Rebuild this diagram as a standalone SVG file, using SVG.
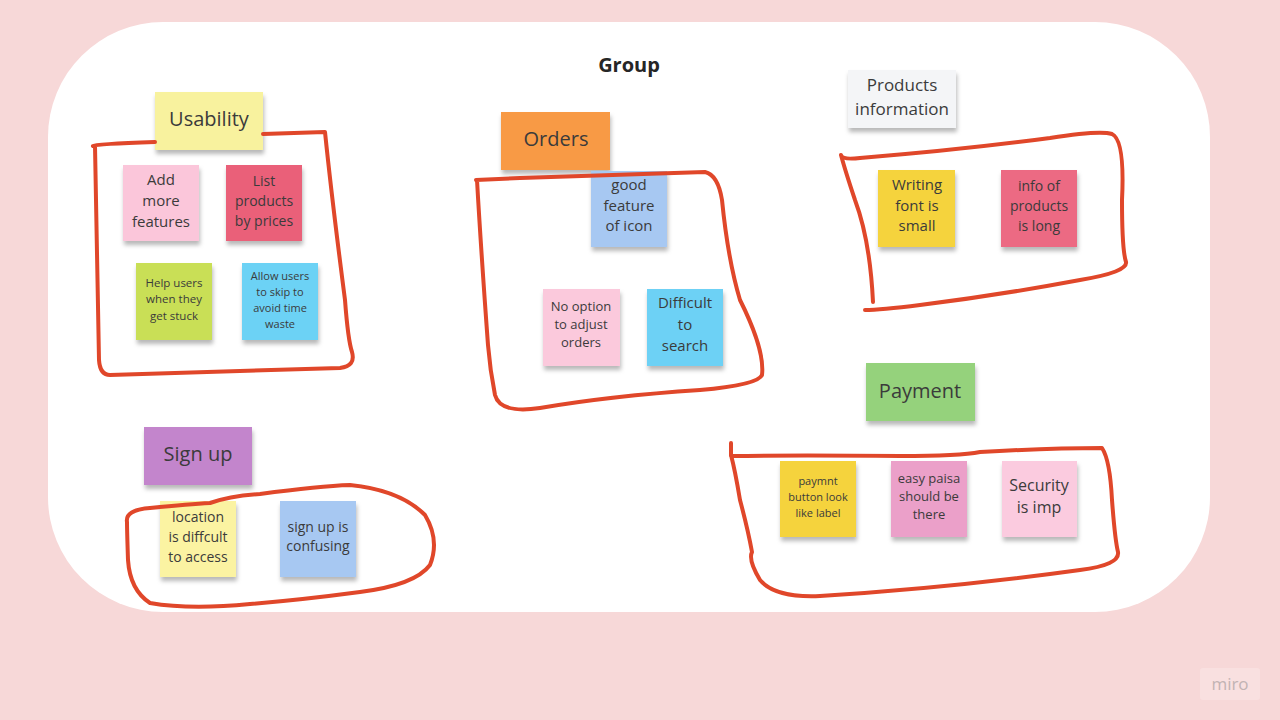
<svg xmlns="http://www.w3.org/2000/svg" width="1280" height="720" viewBox="0 0 1280 720">
<defs>
<filter id="sh" x="-20%" y="-20%" width="140%" height="150%">
<feDropShadow dx="1" dy="4" stdDeviation="2" flood-color="#000" flood-opacity="0.28"/>
</filter>
<style>
.t{font-family:"Open Sans","Liberation Sans",sans-serif;fill:#3b3b3b;text-anchor:middle}
.h{font-size:20px}
.loop{fill:none;stroke:#e0472a;stroke-width:4;stroke-linecap:round;stroke-linejoin:round}
</style>
</defs>
<rect width="1280" height="720" fill="#f7d8d8"/>
<rect x="48" y="22" width="1162" height="590" rx="115" fill="#ffffff"/>
<text x="629" y="72" class="t" style="font-size:20px;font-weight:bold;fill:#262626">Group</text>

<g id="usability">
<rect x="155" y="92" width="108" height="58" fill="#f8f29e" filter="url(#sh)"/>
<text x="209" y="126" class="t h">Usability</text>
</g>
<g id="add-more-features">
<rect x="123" y="165" width="76" height="76" fill="#fbc6da" filter="url(#sh)"/>
<text class="t" style="font-size:15px"><tspan x="161" y="185">Add</tspan><tspan x="161" y="206">more</tspan><tspan x="161" y="227">features</tspan></text>
</g>
<g id="list-products">
<rect x="226" y="165" width="76" height="76" fill="#ea6079" filter="url(#sh)"/>
<text class="t" style="font-size:14px"><tspan x="264" y="186">List</tspan><tspan x="264" y="206">products</tspan><tspan x="264" y="226">by prices</tspan></text>
</g>
<g id="help-users">
<rect x="136" y="263" width="76" height="77" fill="#c9df56" filter="url(#sh)"/>
<text class="t" style="font-size:11.5px"><tspan x="174" y="287">Help users</tspan><tspan x="174" y="303">when they</tspan><tspan x="174" y="320">get stuck</tspan></text>
</g>
<g id="allow-users">
<rect x="242" y="263" width="76" height="77" fill="#6cd2f5" filter="url(#sh)"/>
<text class="t" style="font-size:11px"><tspan x="280" y="280">Allow users</tspan><tspan x="280" y="296">to skip to</tspan><tspan x="280" y="312">avoid time</tspan><tspan x="280" y="328">waste</tspan></text>
</g>

<g id="orders">
<rect x="501" y="112" width="109" height="58" fill="#f89a44" filter="url(#sh)"/>
<text x="556" y="146" class="t h">Orders</text>
</g>
<g id="good-feature">
<rect x="591" y="171" width="76" height="76" fill="#a7c8f2" filter="url(#sh)"/>
<text class="t" style="font-size:15px"><tspan x="629" y="190">good</tspan><tspan x="629" y="211">feature</tspan><tspan x="629" y="231">of icon</tspan></text>
</g>
<g id="no-option">
<rect x="543" y="289" width="77" height="77" fill="#fbc9dc" filter="url(#sh)"/>
<text class="t" style="font-size:13px"><tspan x="581" y="311">No option</tspan><tspan x="581" y="329">to adjust</tspan><tspan x="581" y="347">orders</tspan></text>
</g>
<g id="difficult-search">
<rect x="647" y="289" width="76" height="77" fill="#6dd1f5" filter="url(#sh)"/>
<text class="t" style="font-size:15px"><tspan x="685" y="308">Difficult</tspan><tspan x="685" y="330">to</tspan><tspan x="685" y="351">search</tspan></text>
</g>

<g id="products-information">
<rect x="848" y="70" width="108" height="58" fill="#f4f5f7" filter="url(#sh)"/>
<text class="t" style="font-size:17px"><tspan x="902" y="91">Products</tspan><tspan x="902" y="115">information</tspan></text>
</g>
<g id="writing-font">
<rect x="878" y="170" width="77" height="77" fill="#f5d33d" filter="url(#sh)"/>
<text class="t" style="font-size:15px"><tspan x="917" y="190">Writing</tspan><tspan x="917" y="211">font is</tspan><tspan x="917" y="231">small</tspan></text>
</g>
<g id="info-products">
<rect x="1001" y="170" width="76" height="77" fill="#ec6b83" filter="url(#sh)"/>
<text class="t" style="font-size:14px"><tspan x="1039" y="191">info of</tspan><tspan x="1039" y="211">products</tspan><tspan x="1039" y="231">is long</tspan></text>
</g>

<g id="payment">
<rect x="866" y="363" width="109" height="58" fill="#95d27c" filter="url(#sh)"/>
<text x="920" y="398" class="t h">Payment</text>
</g>
<g id="paymnt-button">
<rect x="780" y="461" width="76" height="76" fill="#f5d33d" filter="url(#sh)"/>
<text class="t" style="font-size:11px"><tspan x="818" y="485">paymnt</tspan><tspan x="818" y="501">button look</tspan><tspan x="818" y="517">like label</tspan></text>
</g>
<g id="easy-paisa">
<rect x="891" y="461" width="76" height="76" fill="#eba0c9" filter="url(#sh)"/>
<text class="t" style="font-size:13px"><tspan x="929" y="483">easy paisa</tspan><tspan x="929" y="501">should be</tspan><tspan x="929" y="519">there</tspan></text>
</g>
<g id="security">
<rect x="1002" y="461" width="75" height="76" fill="#fbcbdf" filter="url(#sh)"/>
<text class="t" style="font-size:16px"><tspan x="1039" y="491">Security</tspan><tspan x="1039" y="513">is imp</tspan></text>
</g>

<g id="sign-up">
<rect x="144" y="427" width="108" height="58" fill="#c385cc" filter="url(#sh)"/>
<text x="198" y="461" class="t h">Sign up</text>
</g>
<g id="location">
<rect x="160" y="501" width="76" height="76" fill="#fbf3a2" filter="url(#sh)"/>
<text class="t" style="font-size:14px"><tspan x="198" y="522">location</tspan><tspan x="198" y="542">is diffcult</tspan><tspan x="198" y="562">to access</tspan></text>
</g>
<g id="sign-up-confusing">
<rect x="280" y="501" width="76" height="76" fill="#a7c8f2" filter="url(#sh)"/>
<text class="t" style="font-size:14px"><tspan x="318" y="532">sign up is</tspan><tspan x="318" y="551">confusing</tspan></text>
</g>

<g id="connectors">
<path class="loop" d="M93,146 Q95,144 155,142 M263,134 L325,132 Q332,200 345,300 Q348,340 352,352 Q356,366 340,368 L110,375 Q100,375 99,360 Q97,250 95,146"/>
<path class="loop" d="M476,180 L520,178 Q640,174 705,172 Q718,175 722,200 Q728,260 740,300 Q765,350 762,375 Q758,385 700,390 Q610,396 540,408 Q500,414 495,395 Q490,370 488,345 M488,345 Q481,250 477,180"/>
<path class="loop" d="M841,155 Q842,160 860,158 Q960,150 1050,138 Q1100,130 1112,134 Q1125,140 1122,200 Q1122,250 1126,262 Q1128,272 1080,280 Q1000,295 920,305 Q880,310 865,310 M873,302 Q870,240 855,200 Q845,170 841,155"/>
<path class="loop" d="M731,443 L731,456 Q800,455 900,456 Q960,456 980,452 Q1050,448 1102,448 Q1110,460 1112,500 Q1115,540 1118,552 Q1120,565 1080,570 Q950,588 820,596 Q775,598 760,580 Q748,560 752,552 Q748,530 740,500 Q735,470 731,455"/>
<path class="loop" d="M127,522 Q125,510 150,508 Q190,504 210,503 Q230,496 260,494 Q320,486 350,485 Q400,490 425,515 Q440,540 430,565 Q415,585 360,592 Q300,600 250,604 Q190,610 150,603 Q130,590 128,560 Q127,530 127,522"/>
</g>

<g id="miro-logo">
<rect x="1200" y="668" width="60" height="32" rx="3" fill="#f9e0e0"/>
<text x="1230" y="690" style="font-family:'Open Sans','Liberation Sans',sans-serif;font-size:17px;fill:#c2b3b3;text-anchor:middle">miro</text>
</g>
</svg>
